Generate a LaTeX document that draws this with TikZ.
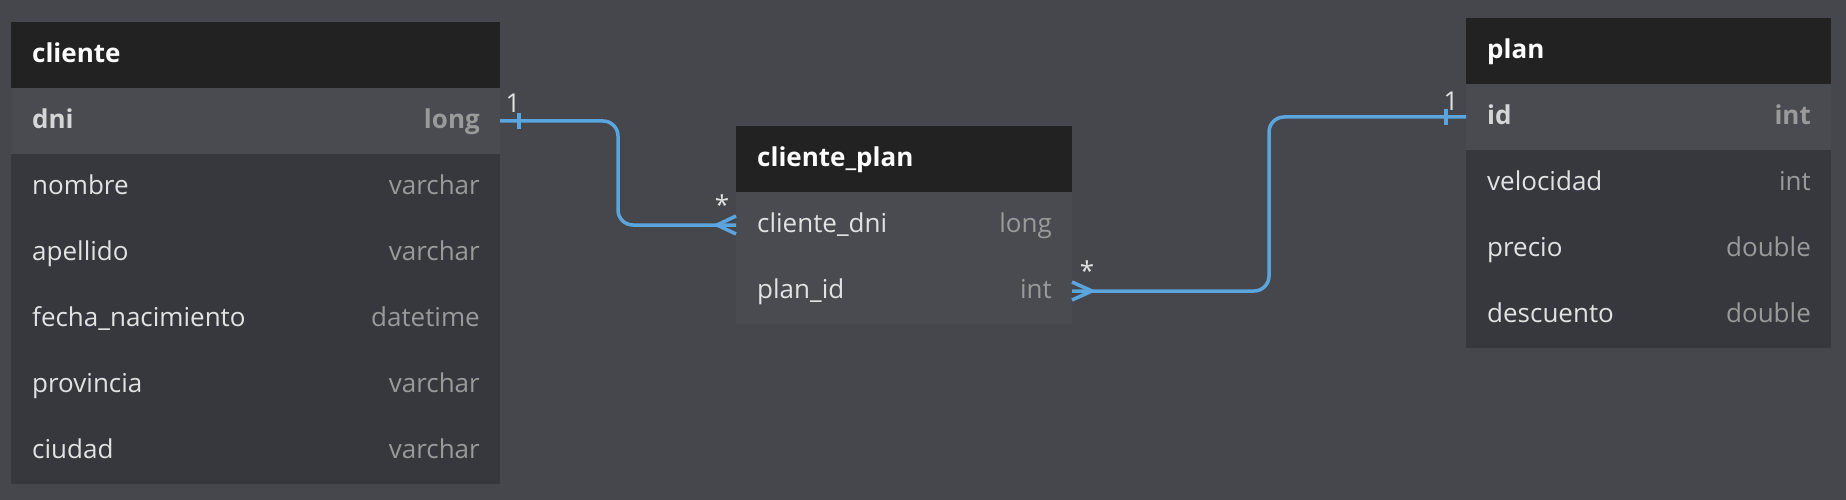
\documentclass[tikz,border=0pt]{standalone}
\usepackage{fontspec}
\setmainfont{Open Sans}
\usetikzlibrary{calc}
\definecolor{bgc}{HTML}{46474C}
\definecolor{hdrc}{HTML}{222222}
\definecolor{pkc}{HTML}{4A4B51}
\definecolor{rowc}{HTML}{37383E}
\definecolor{namec}{HTML}{E2E2E2}
\definecolor{pknamec}{HTML}{D6D6D6}
\definecolor{typec}{HTML}{9A9A9A}
\definecolor{connc}{HTML}{5AA5DE}
\newcommand\fsz{\fontsize{26}{31}\selectfont}
\newcommand\tbrow[7]{%
  \node[rowbox, fill=#5, minimum width=#4pt] (#1) at (#2,#3) {};
  \node[lt] (#1-l) at ($(#1.west)+(21,7.5)$) {#6};
  \node[rt] (#1-r) at ($(#1.east)+(-20,7.5)$) {#7};
}
\begin{document}
\begin{tikzpicture}[x=1pt,y=-1pt,
  rowbox/.style={draw=none, inner sep=0pt, outer sep=0pt, minimum height=66pt, anchor=north west},
  lt/.style={anchor=base west, inner sep=0pt, font=\fsz},
  rt/.style={anchor=base east, inner sep=0pt, font=\fsz, text=typec},
  conn/.style={draw=connc, line width=3.5pt, rounded corners=15pt},
  foot/.style={draw=connc, line width=3.5pt},
  card/.style={inner sep=0pt, text=namec, font=\fsz}
]
\fill[bgc] (0,0) rectangle (1846,500);
\useasboundingbox (0,0) rectangle (1846,500);

% cliente
\tbrow{cl-h}{11}{22}{489}{hdrc}{\color{white}\bfseries cliente}{}
\tbrow{cl-dni}{11}{88}{489}{pkc}{\color{pknamec}\bfseries dni}{\bfseries long}
\tbrow{cl-nom}{11}{154}{489}{rowc}{\color{namec}nombre}{varchar}
\tbrow{cl-ape}{11}{220}{489}{rowc}{\color{namec}apellido}{varchar}
\tbrow{cl-fec}{11}{286}{489}{rowc}{\color{namec}fecha\_nacimiento}{datetime}
\tbrow{cl-pro}{11}{352}{489}{rowc}{\color{namec}provincia}{varchar}
\tbrow{cl-ciu}{11}{418}{489}{rowc}{\color{namec}ciudad}{varchar}

% cliente_plan
\tbrow{cp-h}{736}{126}{336}{hdrc}{\color{white}\bfseries cliente\_plan}{}
\tbrow{cp-dni}{736}{192}{336}{pkc}{\color{namec}cliente\_dni}{long}
\tbrow{cp-plan}{736}{258}{336}{pkc}{\color{namec}plan\_id}{int}

% plan
\tbrow{pl-h}{1466}{18}{365}{hdrc}{\color{white}\bfseries plan}{}
\tbrow{pl-id}{1466}{84}{365}{pkc}{\color{pknamec}\bfseries id}{\bfseries int}
\tbrow{pl-vel}{1466}{150}{365}{rowc}{\color{namec}velocidad}{int}
\tbrow{pl-pre}{1466}{216}{365}{rowc}{\color{namec}precio}{double}
\tbrow{pl-des}{1466}{282}{365}{rowc}{\color{namec}descuento}{double}

% connectors
\coordinate (k1) at (618,0);
\coordinate (k2) at (1269,0);
\draw[conn] (cl-dni.east) -- (cl-dni.east -| k1) |- (cp-dni.west);
\draw[conn] (cp-plan.east) -- (cp-plan.east -| k2) |- (pl-id.west);

% one-side ticks
\draw[foot] ($(cl-dni.east)+(19,-8)$) -- ($(cl-dni.east)+(19,8)$);
\draw[foot] ($(pl-id.west)+(-20,-8)$) -- ($(pl-id.west)+(-20,8)$);

% crow's feet
\draw[foot] ($(cp-dni.west)+(0,-9)$) -- ($(cp-dni.west)+(-19,0)$) -- ($(cp-dni.west)+(0,9)$);
\draw[foot] ($(cp-plan.east)+(0,-9)$) -- ($(cp-plan.east)+(20,0)$) -- ($(cp-plan.east)+(0,9)$);

% cardinality labels
\node[card, anchor=base] (c1) at ($(cl-dni.east)+(13,-8)$) {1};
\node[card, anchor=base] (c2) at ($(pl-id.west)+(-15,-6)$) {1};
\node[card] (c3) at ($(cp-dni.west)+(-14,-20)$) {*};
\node[card] (c4) at ($(cp-plan.east)+(15,-20)$) {*};
\end{tikzpicture}
\end{document}
